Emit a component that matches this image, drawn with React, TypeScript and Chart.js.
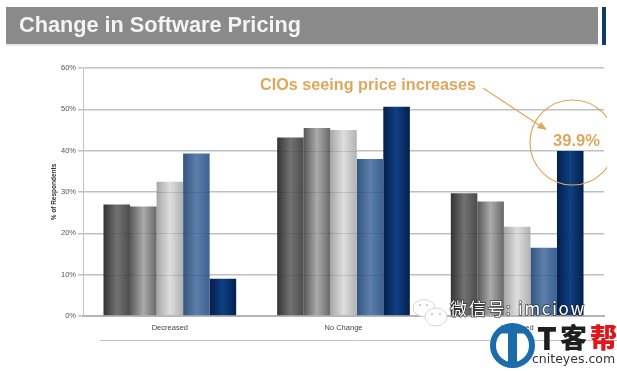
import React, { useEffect, useRef } from "react";
import { Chart, registerables } from "chart.js";

Chart.register(...registerables);

const categories = ["Decreased", "No Change", "Increased"];
const seriesA = [27, 43.2, 29.7];
const seriesB = [26.5, 45.5, 27.7];
const seriesC = [32.5, 45, 21.6];
const seriesD = [39.3, 38, 16.5];
const seriesE = [9, 50.6, 39.9];
const yTicks = [0, 10, 20, 30, 40, 50, 60];
const title = "Change in Software Pricing";
const yTitle = "% of Respondents";
const callout = "CIOs seeing price increases";
const calloutValue = "39.9%";
const wechat = "微信号: imciow";

const palettes = [
  ["#333333", "#727272", "#4c4c4c"],
  ["#585858", "#ababab", "#686868"],
  ["#a6a6a6", "#dedede", "#b2b2b2"],
  ["#34557f", "#5c7fab", "#3d6191"],
  ["#041f4c", "#0e4084", "#041f4c"],
];
const ORANGE = "#dfa75c";
const CAT_PCT = 0.764;

function groupBounds(x: any, index: number) {
  const bw = ((x.width / categories.length) * CAT_PCT) / palettes.length;
  const centre = x.getPixelForValue(index);
  return { bw, left: centre - (palettes.length / 2) * bw };
}

function barFill(context: any) {
  const chart = context.chart;
  const colours = palettes[context.datasetIndex];
  const x = chart.scales.x;
  if (!chart.chartArea || !x || context.dataIndex === undefined) return colours[1];
  const { bw, left: groupLeft } = groupBounds(x, context.dataIndex);
  const left = groupLeft + context.datasetIndex * bw;
  const g = chart.ctx.createLinearGradient(left, 0, left + bw, 0);
  g.addColorStop(0, colours[0]);
  g.addColorStop(0.5, colours[1]);
  g.addColorStop(1, colours[2]);
  return g;
}

const decorations = {
  id: "decorations",
  afterDatasetsDraw(chart: any) {
    const { ctx, scales } = chart;
    ctx.save();
    ctx.strokeStyle = "rgba(40,40,50,0.14)";
    ctx.lineWidth = 1;
    yTicks.slice(1, -1).forEach((v) => {
      const y = Math.round(scales.y.getPixelForValue(v)) + 0.5;
      categories.forEach((_, i) => {
        const { bw, left } = groupBounds(scales.x, i);
        palettes.forEach((__, d) => {
          const series = [seriesA, seriesB, seriesC, seriesD, seriesE][d];
          if (series[i] < v) return;
          ctx.beginPath();
          ctx.moveTo(left + d * bw, y);
          ctx.lineTo(left + (d + 1) * bw, y);
          ctx.stroke();
        });
      });
    });
    ctx.restore();
  },
  afterDraw(chart: any) {
    const { ctx, scales } = chart;
    ctx.save();
    // header banner
    ctx.fillStyle = "#8a8a8a";
    ctx.fillRect(6, 7, 592, 37);
    ctx.fillStyle = "#e9e9e9";
    ctx.fillRect(6, 44, 592, 2);
    ctx.fillStyle = "#123a68";
    ctx.fillRect(602, 7, 4, 38);
    ctx.fillStyle = "#f4f4f4";
    ctx.font = "bold 21.7px 'Liberation Sans'";
    ctx.textAlign = "left";
    ctx.textBaseline = "alphabetic";
    ctx.fillText(title, 19, 32);

    // lower rule
    ctx.strokeStyle = "#c4c4c4";
    ctx.lineWidth = 1;
    ctx.beginPath();
    ctx.moveTo(100, 340.5);
    ctx.lineTo(617, 340.5);
    ctx.stroke();

    // callout
    ctx.fillStyle = ORANGE;
    ctx.font = "bold 16.2px 'Liberation Sans'";
    ctx.fillText(callout, 260, 90);
    ctx.font = "bold 16.6px 'Liberation Sans'";
    const barTop = scales.y.getPixelForValue(seriesE[2]);
    ctx.fillText(calloutValue, 553, barTop - 5);

    ctx.strokeStyle = ORANGE;
    ctx.lineWidth = 1.2;
    ctx.beginPath();
    ctx.moveTo(483, 88);
    ctx.lineTo(545, 129);
    ctx.stroke();
    ctx.fillStyle = ORANGE;
    ctx.beginPath();
    ctx.moveTo(547, 130);
    ctx.lineTo(537, 128);
    ctx.lineTo(541, 122);
    ctx.closePath();
    ctx.fill();

    ctx.save();
    ctx.beginPath();
    ctx.rect(0, 0, 607, 371);
    ctx.clip();
    ctx.beginPath();
    ctx.arc(572.5, 142.5, 42.5, 0, Math.PI * 2);
    ctx.lineWidth = 1.2;
    ctx.stroke();
    ctx.restore();

    // wechat mark
    ctx.fillStyle = "rgba(255,255,255,0.97)";
    ctx.strokeStyle = "#d6d6d6";
    ctx.lineWidth = 1;
    ctx.beginPath();
    ctx.ellipse(424, 308, 11, 8.5, 0, 0, Math.PI * 2);
    ctx.fill();
    ctx.stroke();
    ctx.beginPath();
    ctx.ellipse(436, 317, 11, 9, 0, 0, Math.PI * 2);
    ctx.fill();
    ctx.stroke();
    ctx.fillStyle = "#bdbdbd";
    [[420, 305], [427, 305], [432, 314], [440, 314]].forEach(([x, y]) => {
      ctx.beginPath();
      ctx.arc(x, y, 1, 0, Math.PI * 2);
      ctx.fill();
    });

    // wechat text
    ctx.font = "17px 'Noto Sans CJK SC'";
    (ctx as any).letterSpacing = "1.7px";
    ctx.lineWidth = 1.5;
    ctx.strokeStyle = "rgba(35,35,35,0.8)";
    ctx.strokeText(wechat, 450, 315);
    ctx.fillStyle = "#ffffff";
    ctx.fillText(wechat, 450, 315);
    (ctx as any).letterSpacing = "0px";

    // logo
    const logoX = 512.5;
    const logoY = 345.5;
    ctx.strokeStyle = "#1b6cab";
    ctx.lineWidth = 6;
    ctx.fillStyle = "#ffffff";
    ctx.beginPath();
    ctx.arc(logoX, logoY, 19.5, 0, Math.PI * 2);
    ctx.fill();
    ctx.stroke();
    ctx.save();
    ctx.beginPath();
    ctx.arc(logoX, logoY, 21, 0, Math.PI * 2);
    ctx.clip();
    ctx.fillStyle = "#1b6cab";
    ctx.fillRect(logoX - 24, logoY - 24, 48, 12);
    ctx.fillRect(logoX - 4.5, logoY - 14, 9, 36);
    ctx.restore();

    ctx.textBaseline = "alphabetic";
    ctx.fillStyle = "#1e1e1e";
    ctx.font = "900 31px 'Noto Sans CJK SC'";
    ctx.fillText("T", 537, 350);
    ctx.font = "900 27px 'Noto Sans CJK SC'";
    ctx.fillText("客", 560, 348);
    ctx.fillStyle = "#e0161b";
    ctx.fillText("帮", 590, 348);
    ctx.font = "12.5px 'DejaVu Sans'";
    ctx.fillStyle = "#333333";
    ctx.fillText("cniteyes.com", 532, 363);
    ctx.restore();
  },
};

export default function App() {
  const ref = useRef<HTMLCanvasElement | null>(null);
  useEffect(() => {
    document.body.style.margin = "0";
    document.body.style.background = "#ffffff";
    const dataSets = [seriesA, seriesB, seriesC, seriesD, seriesE].map((data, i) => ({
      label: `Series ${i + 1}`,
      data,
      backgroundColor: barFill,
      borderWidth: 0,
      barPercentage: 1,
      categoryPercentage: CAT_PCT,
    }));
    const chart = new Chart(ref.current as HTMLCanvasElement, {
      type: "bar",
      data: { labels: categories, datasets: dataSets },
      plugins: [decorations],
      options: {
        animation: false,
        responsive: false,
        layout: { padding: { left: 50, right: 13, top: 68, bottom: 0 } },
        plugins: { legend: { display: false }, title: { display: false }, tooltip: { enabled: false } },
        scales: {
          x: {
            grid: { display: false, drawTicks: false },
            border: { color: "#b5b5b5", width: 2 },
            ticks: { color: "#444444", font: { family: "'Liberation Sans'", size: 7.5 }, padding: 7, maxRotation: 0 },
            afterFit(scale: any) {
              scale.height = 55;
            },
          },
          y: {
            min: 0,
            max: 60,
            afterBuildTicks(scale: any) {
              scale.ticks = yTicks.map((value) => ({ value }));
            },
            grid: { color: "#c0c0c0", lineWidth: 1.5, tickLength: 5, drawOnChartArea: true },
            border: { color: "#c4c4c4", width: 1 },
            ticks: {
              color: "#555555",
              font: { family: "'Liberation Sans'", size: 7.5 },
              padding: 2,
              callback: (v: any) => `${v}%`,
            },
            title: {
              display: true,
              text: yTitle,
              color: "#333333",
              font: { family: "'Liberation Sans'", size: 6.5, weight: "bold" },
              padding: { top: 0, bottom: 1 },
            },
            afterFit(scale: any) {
              scale.width = 33;
            },
          },
        },
      },
    } as any);
    return () => chart.destroy();
  }, []);
  return (
    <canvas
      ref={ref}
      width={617}
      height={371}
      style={{ display: "block", width: 617, height: 371, filter: "blur(0.35px)" }}
    />
  );
}
